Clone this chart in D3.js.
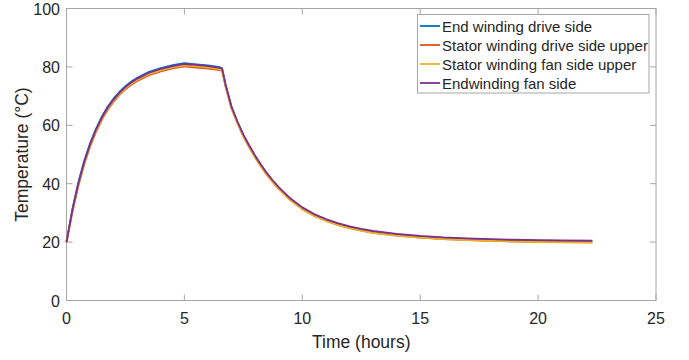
<!DOCTYPE html>
<html>
<head>
<meta charset="utf-8">
<script src="https://cdn.jsdelivr.net/npm/d3@7"></script>
<style>
  body { margin: 0; background: #fff; }
  text { font-family: "Liberation Sans", Arial, sans-serif; }
</style>
</head>
<body>
<script>
// time in hours
var hours = [0,0.25,0.5,0.75,1,1.25,1.5,1.75,2,2.25,2.5,2.75,3,3.5,4,4.5,5,5.5,6,6.5,6.6,6.75,7,7.25,7.5,7.75,8,8.25,8.5,8.75,9,9.5,10,10.5,11,11.5,12,12.5,13,14,15,16,17,18,19,20,21,22.3];

var endDrive   = [20.0,31.3,40.4,47.8,53.8,58.8,63.0,66.4,69.2,71.5,73.4,75.0,76.3,78.3,79.6,80.6,81.3,80.9,80.5,79.9,79.5,73.7,66.2,61.1,56.6,52.9,49.4,46.3,43.4,40.9,38.6,34.7,31.7,29.4,27.7,26.3,25.2,24.3,23.6,22.6,21.9,21.4,21.1,20.8,20.6,20.5,20.4,20.3];
var statorDrive = [20.0,30.3,39.2,46.6,52.7,57.7,61.9,65.3,68.1,70.4,72.3,73.9,75.2,77.2,78.5,79.5,80.2,79.8,79.4,78.9,78.6,73.2,65.7,60.7,56.2,52.5,49.0,45.9,43.0,40.5,38.2,34.3,31.3,29.0,27.3,25.9,24.8,23.9,23.2,22.2,21.5,21.0,20.7,20.4,20.2,20.1,20.0,19.9];
var statorFan  = [20.0,30.5,39.5,46.9,53.0,58.0,62.2,65.6,68.4,70.7,72.6,74.2,75.5,77.5,78.8,79.8,80.5,80.2,79.8,79.2,78.9,73.2,65.7,60.7,56.2,52.5,49.0,45.9,43.0,40.5,38.2,34.3,31.3,29.0,27.3,25.9,24.8,23.9,23.2,22.2,21.5,21.0,20.7,20.4,20.2,20.0,19.9,19.8];
var endFan     = [20.0,31.0,40.0,47.4,53.5,58.5,62.7,66.1,68.9,71.2,73.1,74.7,76.0,78.0,79.3,80.3,81.0,80.7,80.3,79.7,79.4,73.8,66.3,61.3,56.8,53.1,49.6,46.5,43.6,41.1,38.8,34.9,31.9,29.6,27.9,26.5,25.4,24.5,23.8,22.8,22.1,21.6,21.3,21.0,20.8,20.7,20.6,20.5];

var seriesNames = ["End winding drive side","Stator winding drive side upper","Stator winding fan side upper","Endwinding fan side"];
var seriesVals = [endDrive, statorDrive, statorFan, endFan];
var colors = ["#0072BD","#D95319","#EDB120","#7E2F8E"];

var xTicks = [0,5,10,15,20,25];
var yTicks = [0,20,40,60,80,100];

var W = 689, H = 360;
var pLeft = 66.5, pRight = 656, pTop = 8.5, pBottom = 300.5;

var svg = d3.select("body").append("svg")
  .attr("width", W)
  .attr("height", H);

var x = d3.scaleLinear().domain([0,25]).range([pLeft,pRight]);
var y = d3.scaleLinear().domain([0,100]).range([pBottom,pTop]);

var axisCol = "#a6a6a6", textCol = "#262626";

// box
svg.append("rect")
  .attr("x", pLeft).attr("y", pTop)
  .attr("width", pRight-pLeft).attr("height", pBottom-pTop)
  .attr("fill", "none").attr("stroke", axisCol).attr("stroke-width", 1);

// inward ticks, matlab style
var tl = 6;
xTicks.forEach(function(t){
  svg.append("line").attr("x1", x(t)).attr("x2", x(t)).attr("y1", pBottom).attr("y2", pBottom-tl).attr("stroke", axisCol);
  svg.append("line").attr("x1", x(t)).attr("x2", x(t)).attr("y1", pTop).attr("y2", pTop+tl).attr("stroke", axisCol);
  svg.append("text").attr("x", x(t)).attr("y", 324)
    .attr("text-anchor","middle").attr("font-size", 16).attr("fill", textCol).text(t);
});
yTicks.forEach(function(t){
  svg.append("line").attr("x1", pLeft).attr("x2", pLeft+tl).attr("y1", y(t)).attr("y2", y(t)).attr("stroke", axisCol);
  svg.append("line").attr("x1", pRight).attr("x2", pRight-tl).attr("y1", y(t)).attr("y2", y(t)).attr("stroke", axisCol);
  svg.append("text").attr("x", 60).attr("y", y(t)+6)
    .attr("text-anchor","end").attr("font-size", 16).attr("fill", textCol).text(t);
});

svg.append("text").attr("x", (pLeft+pRight)/2).attr("y", 348)
  .attr("text-anchor","middle").attr("font-size", 17.5).attr("fill", textCol).text("Time (hours)");
svg.append("text")
  .attr("transform", "translate(28," + ((pTop+pBottom)/2) + ") rotate(-90)")
  .attr("text-anchor","middle").attr("font-size", 17.5).attr("fill", textCol).text("Temperature (°C)");

// lines
var line = d3.line().x(function(d){ return x(d[0]); }).y(function(d){ return y(d[1]); });
seriesVals.forEach(function(vals, i){
  svg.append("path")
    .datum(hours.map(function(h, j){ return [h, vals[j]]; }))
    .attr("d", line)
    .attr("fill", "none")
    .attr("stroke", colors[i])
    .attr("stroke-width", 1.8)
    .attr("stroke-linejoin", "round");
});

// legend
var lg = svg.append("g");
lg.append("rect").attr("x", 417.5).attr("y", 14.5).attr("width", 231.5).attr("height", 78.5)
  .attr("fill", "#fff").attr("stroke", axisCol);
seriesNames.forEach(function(n, i){
  var ly = 26 + i*19;
  lg.append("line").attr("x1", 420).attr("x2", 440).attr("y1", ly).attr("y2", ly)
    .attr("stroke", colors[i]).attr("stroke-width", 1.8);
  lg.append("text").attr("x", 442).attr("y", ly+5.5).attr("font-size", 15).attr("fill", textCol).text(n);
});
</script>
</body>
</html>
